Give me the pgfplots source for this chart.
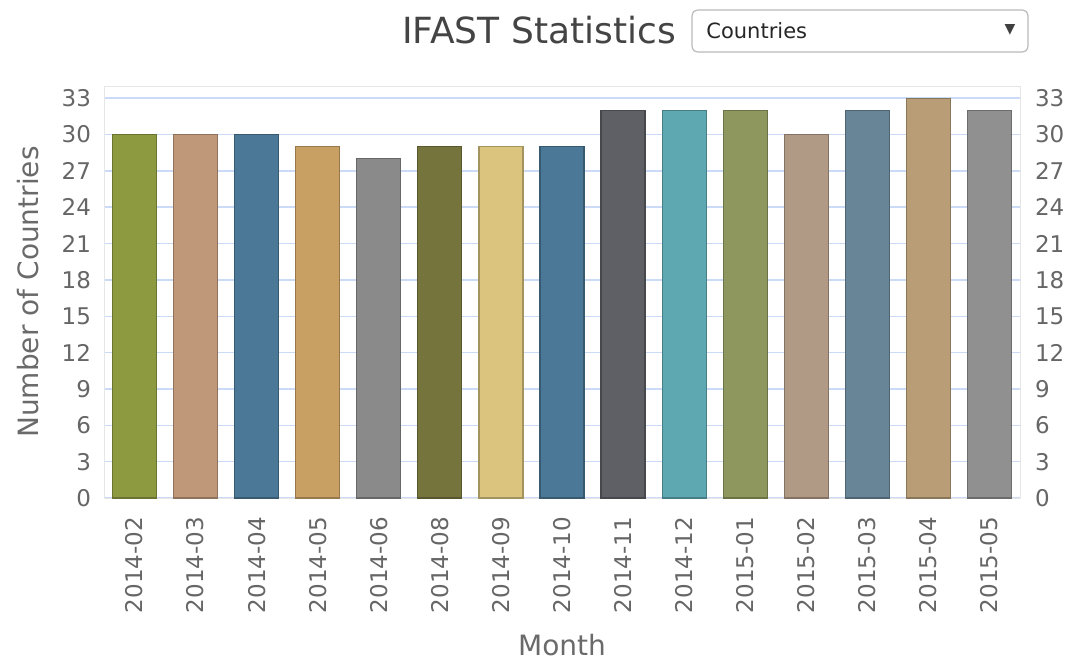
\documentclass[border=0pt]{standalone}
\usepackage{fontspec}
\setmainfont{DejaVu Sans}
\usepackage{pgfplots}
\pgfplotsset{compat=1.18}

\definecolor{tickgray}{HTML}{666666}
\definecolor{labelgray}{HTML}{6A6A6A}
\definecolor{titlegray}{HTML}{444444}
\definecolor{gridblue}{HTML}{CBDAF7}
\definecolor{framegray}{HTML}{E6E6E6}
\definecolor{c1}{HTML}{8E9A3F}
\definecolor{c2}{HTML}{BE9878}
\definecolor{c3}{HTML}{4A7896}
\definecolor{c4}{HTML}{C9A063}
\definecolor{c5}{HTML}{8A8A8A}
\definecolor{c6}{HTML}{76743D}
\definecolor{c7}{HTML}{DAC47E}
\definecolor{c8}{HTML}{4A7896}
\definecolor{c9}{HTML}{5F6065}
\definecolor{c10}{HTML}{5EA8B2}
\definecolor{c11}{HTML}{8E985E}
\definecolor{c12}{HTML}{B09A86}
\definecolor{c13}{HTML}{688597}
\definecolor{c14}{HTML}{B89D77}
\definecolor{c15}{HTML}{909090}

\pgfplotsset{
  ifast/.style={
    at={(52pt,-249pt)}, anchor=south west,
    scale only axis, width=458pt, height=206pt,
    xmin=-0.5, xmax=14.5, ymin=0, ymax=34,
    ytick={0,3,...,33},
    major tick length=0pt,
    axis line style={framegray},
    /pgf/number format/assume math mode=true,
    tick label style={font=\fontsize{11.5}{13}\selectfont, text=tickgray},
  },
  mbar/.style={fill=#1, draw=#1!75!black, ybar, bar width=22pt, bar shift=0pt, line width=0.6pt},
}

\begin{document}
\begin{tikzpicture}
\path[use as bounding box] (0,0) rectangle (539.5pt,-333pt);

\node[font=\fontsize{18}{20}\selectfont, text=titlegray] at (269.5pt,-15pt) {IFAST Statistics};
\draw[draw=gray!55, rounded corners=3pt, line width=0.6pt] (346pt,-5pt) rectangle (514pt,-26pt);
\node[anchor=west, font=\fontsize{10.5}{12}\selectfont, text=black!85, inner sep=0pt] at (353pt,-15.5pt) {Countries};
\node[font=\fontsize{7}{8}\selectfont, text=black!75] at (505pt,-15pt) {▼};

\begin{axis}[
  ifast,
  xtick={0,...,14},
  xticklabels={2014-02,2014-03,2014-04,2014-05,2014-06,2014-08,2014-09,2014-10,2014-11,2014-12,2015-01,2015-02,2015-03,2015-04,2015-05},
  x tick label style={rotate=90, anchor=east, xshift=-6pt},
  y tick label style={xshift=-3pt},
  ymajorgrids,
  grid style={gridblue, line width=0.7pt},
  ylabel={Number of Countries},
  xlabel={Month},
  every axis y label/.style={at={(axis description cs:-0.083,0.5)}, rotate=90, anchor=center,
    font=\fontsize{14}{16}\selectfont, text=labelgray},
  every axis x label/.style={at={(axis description cs:0.5,-0.357)}, anchor=center,
    font=\fontsize{14}{16}\selectfont, text=labelgray},
]
\addplot[mbar=c1]  coordinates {(0,30)};
\addplot[mbar=c2]  coordinates {(1,30)};
\addplot[mbar=c3]  coordinates {(2,30)};
\addplot[mbar=c4]  coordinates {(3,29)};
\addplot[mbar=c5]  coordinates {(4,28)};
\addplot[mbar=c6]  coordinates {(5,29)};
\addplot[mbar=c7]  coordinates {(6,29)};
\addplot[mbar=c8]  coordinates {(7,29)};
\addplot[mbar=c9]  coordinates {(8,32)};
\addplot[mbar=c10] coordinates {(9,32)};
\addplot[mbar=c11] coordinates {(10,32)};
\addplot[mbar=c12] coordinates {(11,30)};
\addplot[mbar=c13] coordinates {(12,32)};
\addplot[mbar=c14] coordinates {(13,33)};
\addplot[mbar=c15] coordinates {(14,32)};
\end{axis}

\begin{axis}[
  ifast,
  axis y line*=right,
  axis x line=none,
  y tick label style={xshift=4pt},
]
\addplot[draw=none] coordinates {(0,0)};
\end{axis}
\end{tikzpicture}
\end{document}
